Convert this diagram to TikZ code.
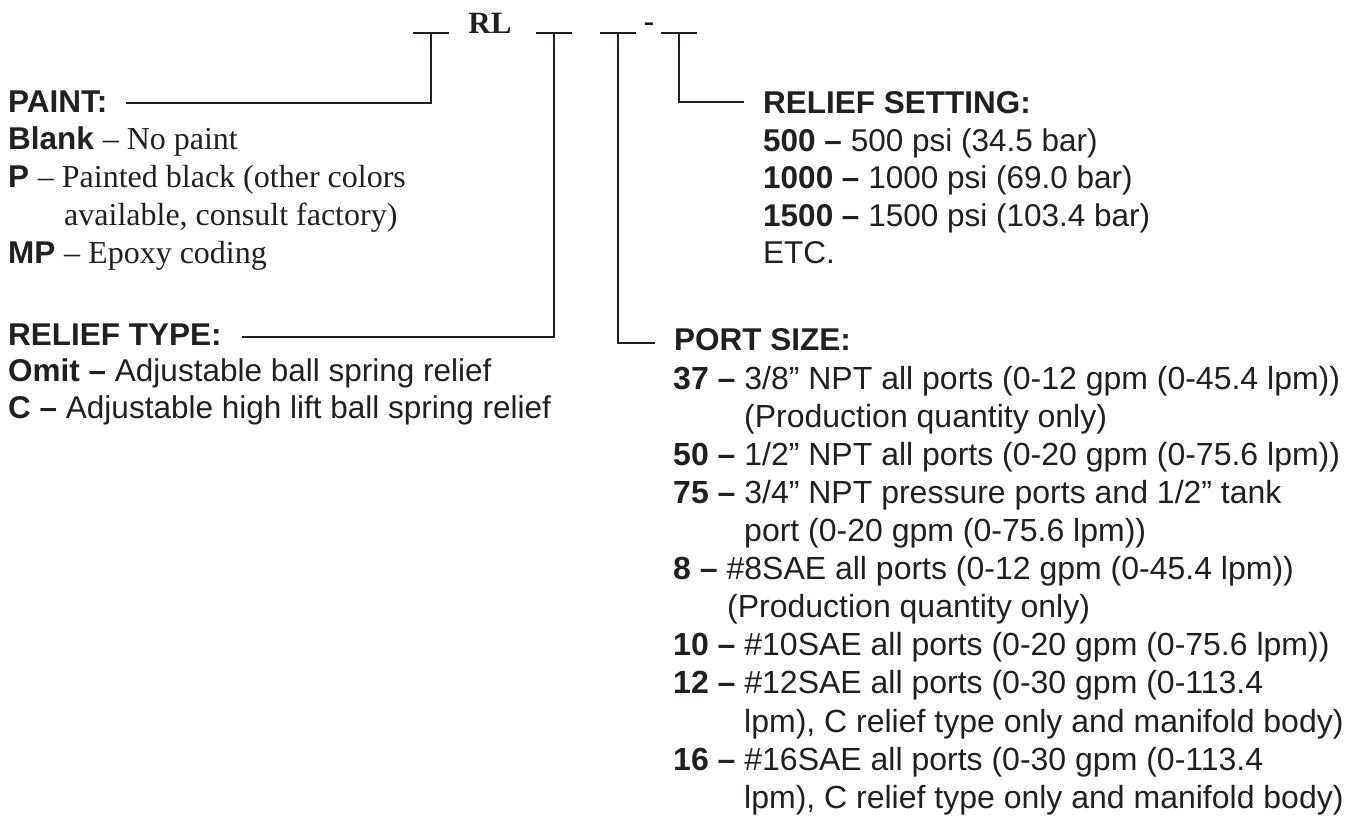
\documentclass[tikz,border=0pt]{standalone}
\usepackage{fontspec}
\setmainfont{Liberation Sans}
\newfontfamily\seriffont{Liberation Serif}
\definecolor{ink}{HTML}{231F20}
\begin{document}
\begin{tikzpicture}[x=1pt,y=-1pt,
  txt/.style={anchor=base west,inner sep=0pt,text=ink,font=\fontsize{31.5}{36}\selectfont},
  stxt/.style={anchor=base west,inner sep=0pt,text=ink,font=\seriffont\fontsize{32}{36}\selectfont},
  ptxt/.style={anchor=base west,inner sep=0pt,text=ink,font=\fontsize{32}{36}\selectfont},
  hd/.style={anchor=base west,inner sep=0pt,text=ink,font=\bfseries\fontsize{31.5}{36}\selectfont},
  wire/.style={draw=ink,line width=2.5pt},
  tick/.style={draw=ink,line width=2.5pt}]
\useasboundingbox (0,0) rectangle (1351,817);
% top code line
\coordinate (t1) at (431,33);
\coordinate (t2) at (554,33);
\coordinate (t3) at (618,33);
\coordinate (t4) at (679,33);
\node[anchor=base,inner sep=0pt,text=ink,font=\seriffont\bfseries\fontsize{31}{32}\selectfont] (rl) at (490,33) {RL};
\node[anchor=base,inner sep=0pt,text=ink,font=\seriffont\bfseries\fontsize{31}{32}\selectfont] (dash) at (649,31) {-};
\foreach \t in {t1,t2,t3,t4}{\draw[tick] ([xshift=-18pt]\t) -- ([xshift=18pt]\t);}
% left column
\node[hd] (paint) at (8,112) {PAINT:};
\node[txt] (blank) at (8,149) {\textbf{Blank} {\seriffont\fontsize{32}{36}\selectfont – No paint}};
\node[txt] (pp) at (8,187) {\textbf{P} {\seriffont\fontsize{32}{36}\selectfont – Painted black (other colors}};
\node[stxt] (avail) at (64,225) {available, consult factory)};
\node[txt] (mp) at (8,263) {\textbf{MP} {\seriffont\fontsize{32}{36}\selectfont – Epoxy coding}};
\node[hd] (rtype) at (8,345) {RELIEF TYPE:};
\node[txt] (omit) at (8,381) {\textbf{Omit –} Adjustable ball spring relief};
\node[txt] (cc) at (8,418) {\textbf{C –} Adjustable high lift ball spring relief};
% right top
\node[hd] (rset) at (763,113) {RELIEF SETTING:};
\node[txt] (s500) at (763,151) {\textbf{500 –} 500 psi (34.5 bar)};
\node[txt] (s1000) at (763,188) {\textbf{1000 –} 1000 psi (69.0 bar)};
\node[txt] (s1500) at (763,226) {\textbf{1500 –} 1500 psi (103.4 bar)};
\node[txt] (etc) at (763,263) {ETC.};
% port size
\node[hd] (port) at (674,350) {PORT SIZE:};
\node[ptxt] (p37) at (673,389) {\textbf{37 –} 3/8” NPT all ports (0-12 gpm (0-45.4 lpm))};
\node[ptxt] (p37b) at (744,427) {(Production quantity only)};
\node[ptxt] (p50) at (673,465) {\textbf{50 –} 1/2” NPT all ports (0-20 gpm (0-75.6 lpm))};
\node[ptxt] (p75) at (673,503) {\textbf{75 –} 3/4” NPT pressure ports and 1/2” tank};
\node[ptxt] (p75b) at (744,541) {port (0-20 gpm (0-75.6 lpm))};
\node[ptxt] (p8) at (673,579) {\textbf{8 –} \#8SAE all ports (0-12 gpm (0-45.4 lpm))};
\node[ptxt] (p8b) at (727,617) {(Production quantity only)};
\node[ptxt] (p10) at (673,655) {\textbf{10 –} \#10SAE all ports (0-20 gpm (0-75.6 lpm))};
\node[ptxt] (p12) at (673,693) {\textbf{12 –} \#12SAE all ports (0-30 gpm (0-113.4};
\node[ptxt] (p12b) at (744,732) {lpm), C relief type only and manifold body)};
\node[ptxt] (p16) at (673,770) {\textbf{16 –} \#16SAE all ports (0-30 gpm (0-113.4};
\node[ptxt] (p16b) at (744,808) {lpm), C relief type only and manifold body)};
% connectors
\coordinate (a1) at ([xshift=18pt,yshift=9pt]paint.base east);
\draw[wire] (a1) -| (t1);
\coordinate (a2) at ([xshift=20pt,yshift=8pt]rtype.base east);
\draw[wire] (a2) -| (t2);
\coordinate (a3) at ([xshift=-19pt,yshift=7pt]port.base west);
\draw[wire] (a3) -| (t3);
\coordinate (a4) at ([xshift=-19pt,yshift=11pt]rset.base west);
\draw[wire] (a4) -| (t4);
\end{tikzpicture}
\end{document}
